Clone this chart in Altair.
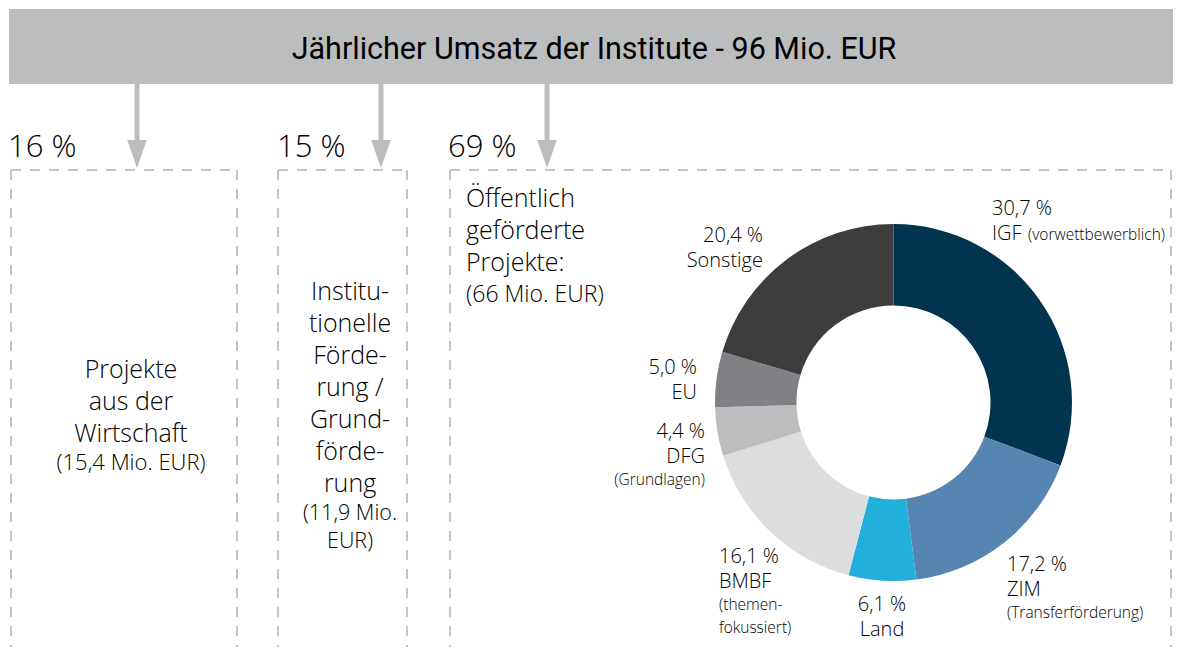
import altair as alt
import pandas as pd

# ---------------- data ----------------
title_text = "Jährlicher Umsatz der Institute - 96 Mio. EUR"
top_shares = ["16 %", "15 %", "69 %"]

box1_lines = ["Projekte", "aus der", "Wirtschaft"]
box1_amount = ["(15,4 Mio. EUR)"]
box2_lines = ["Institu-", "tionelle", "Förde-", "rung /", "Grund-", "förde-", "rung"]
box2_amount = ["(11,9 Mio.", "EUR)"]
box3_lines = ["Öffentlich", "geförderte", "Projekte:"]
box3_amount = ["(66 Mio. EUR)"]

categories = ["IGF", "ZIM", "Land", "BMBF", "DFG", "EU", "Sonstige"]
shares = [30.7, 17.2, 6.1, 16.1, 4.4, 5.0, 20.4]
share_labels = ["30,7 %", "17,2 %", "6,1 %", "16,1 %", "4,4 %", "5,0 %", "20,4 %"]
sub_labels = {
    "IGF": ["(vorwettbewerblich)"],
    "ZIM": ["(Transferförderung)"],
    "Land": [],
    "BMBF": ["(themen-", "fokussiert)"],
    "DFG": ["(Grundlagen)"],
    "EU": [],
    "Sonstige": [],
}
colors = ["#00344f", "#5585b0", "#22afdc", "#dcdddf", "#bcbdbf", "#808184", "#3d3d3d"]

# ---------------- layout (pixel positions of the page) ----------------
FONT = "Open Sans"
TFONT = "Roboto"
GREY = "#bcbdbf"
DASH = "#c4c4c4"
TXT = "#000000"

X0, X1, Y0, Y1 = 8, 1173, 8, 647
xs = alt.Scale(domain=[X0, X1], nice=False, zero=False)
ys = alt.Scale(domain=[Y0, Y1], nice=False, zero=False, reverse=True)


def X(f="x"):
    return alt.X(f"{f}:Q", scale=xs, axis=None)


def Y(f="y"):
    return alt.Y(f"{f}:Q", scale=ys, axis=None)


layers = []

# header bar
hdr = pd.DataFrame({"x": [9], "x2": [1181], "y": [9], "y2": [84]})
layers.append(alt.Chart(hdr).mark_rect(color=GREY).encode(
    x=X(), x2="x2:Q", y=Y(), y2="y2:Q"))
layers.append(alt.Chart(pd.DataFrame({"t": [title_text], "x": [594], "y": [59]})).mark_text(
    font=TFONT, fontSize=30.5, fontWeight=400, color="#000000", align="center", baseline="alphabetic"
).encode(x=X(), y=Y(), text="t:N"))

# arrows
arrow_x = [137, 381, 547]
arr = pd.DataFrame({"x": arrow_x, "y": [84] * 3, "y2": [146] * 3, "ya": [154] * 3})
layers.append(alt.Chart(arr).mark_rule(color=GREY, strokeWidth=5).encode(
    x=X(), y=Y(), y2="y2:Q"))
layers.append(alt.Chart(arr).mark_point(
    shape="M-0.7,-1L0.7,-1L0,1Z", filled=True, color=GREY, opacity=1, size=784
).encode(x=X(), y=Y("ya")))

# top percentage labels
pct = pd.DataFrame({"t": top_shares, "x": [8, 277, 448], "y": [157] * 3})
layers.append(alt.Chart(pct).mark_text(
    font=FONT, fontSize=31, fontWeight=300, color=TXT, align="left", baseline="alphabetic"
).encode(x=X(), y=Y(), text="t:N"))

# dashed boxes
boxes = [(11, 237), (278, 407), (450, 1171)]
seg = []
for a, b in boxes:
    seg.append({"x": a, "x2": b, "y": 170, "y2": 170})
    seg.append({"x": a, "x2": a, "y": 170, "y2": 660})
    seg.append({"x": b, "x2": b, "y": 170, "y2": 660})
layers.append(alt.Chart(pd.DataFrame(seg)).mark_rule(
    color=DASH, strokeWidth=2, strokeDash=[10, 9]
).encode(x=X(), x2="x2:Q", y=Y(), y2="y2:Q"))


def text_layer(lines, x, y0, step, size, align, weight=300):
    df = pd.DataFrame({"t": lines, "x": [x] * len(lines),
                       "y": [y0 + i * step for i in range(len(lines))]})
    return alt.Chart(df).mark_text(
        font=FONT, fontSize=size, fontWeight=weight, color=TXT, align=align, baseline="alphabetic"
    ).encode(x=X(), y=Y(), text="t:N")


# box texts
layers.append(text_layer(box1_lines, 131, 378, 32, 25, "center"))
layers.append(text_layer(box1_amount, 131, 470, 32, 22, "center"))
layers.append(text_layer(box2_lines, 350, 300, 32, 25, "center"))
layers.append(text_layer(box2_amount, 350, 520, 28, 21.5, "center"))
layers.append(text_layer(box3_lines, 466, 207, 32, 25, "left"))
layers.append(text_layer(box3_amount, 466, 302, 32, 23, "left"))

# donut
CX, CY = 893.5, 402.5
donut = pd.DataFrame({"cat": categories, "share": shares, "order": list(range(len(categories))),
                      "cx": [CX] * len(categories), "cy": [CY] * len(categories)})
layers.append(alt.Chart(donut).mark_arc(innerRadius=97, outerRadius=178.5).encode(
    theta=alt.Theta("share:Q", stack=True),
    order=alt.Order("order:Q"),
    color=alt.Color("cat:N", scale=alt.Scale(domain=categories, range=colors), legend=None),
    x=X("cx"), y=Y("cy"),
))

# donut labels: (x, first baseline, align) per category
lab_pos = {
    "IGF": (992, 215, "left"),
    "ZIM": (1007, 571, "left"),
    "Land": (882, 611, "center"),
    "BMBF": (719, 563, "left"),
    "DFG": (705, 438, "right"),
    "EU": (697, 374, "right"),
    "Sonstige": (763, 242, "right"),
}
sub_size = {"IGF": 15.5, "ZIM": 15.5, "BMBF": 15.5, "DFG": 15.5}
for cat, lab in zip(categories, share_labels):
    x, y, al = lab_pos[cat]
    layers.append(text_layer([lab, cat], x, y, 24.5, 20, al))
    subs = sub_labels[cat]
    if cat == "IGF":
        layers.append(text_layer(subs, 1028, y + 24.5, 23, sub_size[cat], "left"))
    elif subs:
        layers.append(text_layer(subs, x, y + 24.5 + 22, 23, sub_size[cat], al))

chart = alt.layer(*layers).properties(
    width=X1 - X0, height=Y1 - Y0, padding=0,
    autosize=alt.AutoSizeParams(type="none"),
).configure_view(stroke=None)

chart.save("out.html", embed_options={"renderer": "svg", "actions": False})
